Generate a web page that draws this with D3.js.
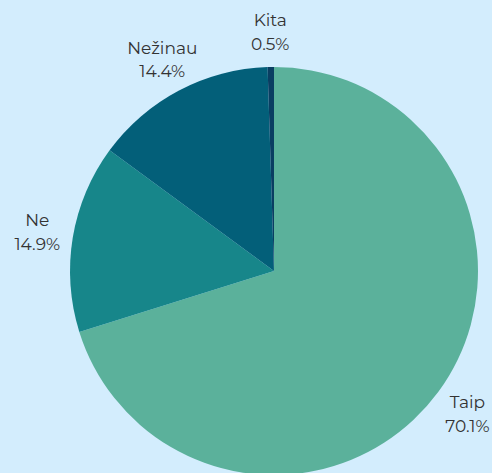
<!DOCTYPE html>
<html lang="lt">
<head>
  <meta charset="UTF-8">
  <style>
    html, body { margin: 0; padding: 0; background: #d3edfd; }
    svg { display: block; }
    .label { font-family: "Montserrat", "Lato", "Noto Sans", sans-serif; font-size: 17px; fill: #333; }
  </style>
  <script src="https://d3js.org/d3.v7.min.js"></script>
</head>
<body>
  <svg id="chart" width="492" height="473"></svg>
  <script>
    const categories = ["Taip", "Ne", "Nežinau", "Kita"];
    const values = [70.1, 14.9, 14.4, 0.5];
    const colors = ["#5bb19b", "#17868a", "#035f79", "#0a3e62"];

    const svg = d3.select("#chart");
    const cx = 274, cy = 271, radius = 204;

    const data = categories.map((c, i) => ({ name: c, value: values[i], color: colors[i] }));

    const pie = d3.pie().sort(null).value(d => d.value);
    const arc = d3.arc().innerRadius(0).outerRadius(radius);
    const labelArc = d3.arc().innerRadius(240).outerRadius(240);

    const g = svg.append("g").attr("transform", `translate(${cx},${cy})`);

    g.selectAll("path")
      .data(pie(data))
      .enter()
      .append("path")
      .attr("d", arc)
      .attr("fill", d => d.data.color);

    const labels = g.selectAll("text.label")
      .data(pie(data))
      .enter()
      .append("text")
      .attr("class", "label")
      .attr("text-anchor", "middle")
      .attr("transform", d => {
        const [x, y] = labelArc.centroid(d);
        return `translate(${x},${y})`;
      });

    labels.append("tspan")
      .attr("x", 0)
      .attr("dy", "-0.3em")
      .text(d => d.data.name);

    labels.append("tspan")
      .attr("x", 0)
      .attr("dy", "1.4em")
      .text(d => d.data.value.toFixed(1) + "%");
  </script>
</body>
</html>
